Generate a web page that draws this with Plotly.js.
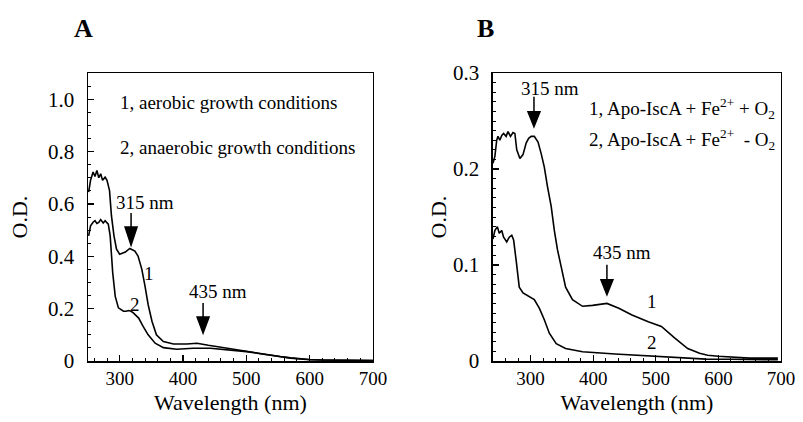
<!DOCTYPE html>
<html>
<head>
<meta charset="utf-8">
<script src="https://cdn.plot.ly/plotly-3.0.1.min.js"></script>
<style>html,body{margin:0;padding:0;background:#fff;}#chart{width:803px;height:422px;}</style>
</head>
<body>
<div id="chart"></div>
<script>
// Panel A: spectra under growth conditions
const wlA1 = [251, 254, 258, 261, 264, 267, 270, 273, 277, 280, 284, 287, 291, 295, 300, 305, 309, 316, 321, 324, 329, 335, 340, 345, 351, 358, 369, 385, 406, 422, 440, 460, 480, 500, 522, 540, 553, 570, 585, 600, 620, 640, 660, 680, 700];
const odA1 = [0.645, 0.69, 0.722, 0.705, 0.728, 0.70, 0.715, 0.69, 0.702, 0.69, 0.651, 0.555, 0.478, 0.427, 0.408, 0.412, 0.416, 0.43, 0.424, 0.42, 0.401, 0.35, 0.286, 0.215, 0.152, 0.1, 0.074, 0.065, 0.065, 0.068, 0.06, 0.052, 0.044, 0.037, 0.029, 0.021, 0.017, 0.012, 0.008, 0.006, 0.004, 0.003, 0.003, 0.002, 0.002];
const wlA2 = [251, 254, 258, 261, 264, 267, 270, 274, 277, 282, 285, 289, 293, 298, 306, 310, 314, 318, 322, 330, 337, 345, 356, 369, 390, 416, 443, 465, 480, 500, 522, 540, 553, 570, 585, 600, 620, 640, 660, 680, 700];
const odA2 = [0.478, 0.516, 0.53, 0.536, 0.525, 0.529, 0.54, 0.527, 0.536, 0.523, 0.478, 0.337, 0.247, 0.203, 0.19, 0.19, 0.193, 0.19, 0.183, 0.164, 0.132, 0.1, 0.068, 0.051, 0.045, 0.049, 0.049, 0.045, 0.042, 0.036, 0.028, 0.021, 0.016, 0.011, 0.008, 0.005, 0.004, 0.003, 0.002, 0.002, 0.002];

// Panel B: Apo-IscA with Fe2+ +/- O2
const wlB1 = [240, 243, 246, 248, 251, 254, 257, 261, 264, 268, 272, 275, 278, 283, 288, 293, 297, 301, 306, 312, 317, 322, 327, 333, 338, 343, 349, 356, 367, 383, 399, 410, 422, 441, 462, 488, 509, 530, 551, 570, 583, 600, 620, 650, 670, 695];
const odB1 = [0.206, 0.213, 0.23, 0.234, 0.23, 0.235, 0.237, 0.234, 0.239, 0.234, 0.238, 0.237, 0.22, 0.211, 0.215, 0.227, 0.232, 0.234, 0.234, 0.228, 0.216, 0.202, 0.182, 0.161, 0.136, 0.116, 0.098, 0.077, 0.064, 0.057, 0.058, 0.059, 0.06, 0.055, 0.048, 0.041, 0.036, 0.024, 0.013, 0.008, 0.006, 0.005, 0.004, 0.003, 0.003, 0.003];
const wlB2 = [240, 243, 247, 250, 254, 257, 262, 266, 270, 273, 277, 282, 288, 298, 306, 314, 322, 330, 341, 356, 383, 435, 488, 541, 580, 620, 660, 695];
const odB2 = [0.127, 0.136, 0.14, 0.133, 0.136, 0.129, 0.124, 0.129, 0.131, 0.126, 0.105, 0.077, 0.071, 0.067, 0.064, 0.055, 0.043, 0.029, 0.018, 0.013, 0.0097, 0.0073, 0.0052, 0.0028, 0.002, 0.0018, 0.0015, 0.0013];

const xTicks = [300, 400, 500, 600, 700];
const yTicksA = [0, 0.2, 0.4, 0.6, 0.8, 1.0];
const yTextA = ['0', '0.2', '0.4', '0.6', '0.8', '1.0'];
const yTicksB = [0, 0.1, 0.2, 0.3];
const yTextB = ['0', '0.1', '0.2', '0.3'];

const FONT = 'Liberation Serif';
const lineStyle = {color: '#000', width: 1.6};

const traces = [
  {x: wlA1, y: odA1, xaxis: 'x', yaxis: 'y', mode: 'lines', line: lineStyle, name: '1'},
  {x: wlA2, y: odA2, xaxis: 'x', yaxis: 'y', mode: 'lines', line: lineStyle, name: '2'},
  {x: wlB1, y: odB1, xaxis: 'x2', yaxis: 'y2', mode: 'lines', line: lineStyle, name: '1'},
  {x: wlB2, y: odB2, xaxis: 'x2', yaxis: 'y2', mode: 'lines', line: lineStyle, name: '2'}
];

function xAxis(domain, range) {
  return {
    domain: domain, range: range, showgrid: false, zeroline: false,
    showline: true, linecolor: '#000', linewidth: 1.5, mirror: true,
    ticks: 'inside', ticklen: 6, tickwidth: 1.2, tickcolor: '#000',
    tickvals: xTicks, ticktext: xTicks.map(String),
    minor: {dtick: 20, ticks: 'inside', ticklen: 3, tickwidth: 1, tickcolor: '#000'},
    tickfont: {family: FONT, size: 19, color: '#000'},
    title: {text: 'Wavelength (nm)', font: {family: FONT, size: 22, color: '#000'}, standoff: 6}
  };
}
function yAxis(range, vals, text, minorDt, standoff) {
  return {
    domain: [0.1445, 0.8270], range: range, showgrid: false, zeroline: false,
    showline: true, linecolor: '#000', linewidth: 1.5, mirror: true,
    ticks: 'inside', ticklen: 6, tickwidth: 1.2, tickcolor: '#000',
    tickvals: vals, ticktext: text, ticklabelstandoff: 8,
    minor: {dtick: minorDt, ticks: 'inside', ticklen: 3, tickwidth: 1, tickcolor: '#000'},
    tickfont: {family: FONT, size: 21, color: '#000'},
    title: {text: 'O.D.', font: {family: FONT, size: 22, color: '#000'}, standoff: standoff}
  };
}

function arrowPath(stem, head) {
  return 'M0,' + stem + ' L0,' + (head - 2) + ' M-6,' + head + ' L6,' + head + ' L0,0 Z';
}
function arrow(xr, yr, x, y, stem, head) {
  return {
    type: 'path', xref: xr, yref: yr, xsizemode: 'pixel', ysizemode: 'pixel',
    xanchor: x, yanchor: y, path: arrowPath(stem, head),
    line: {color: '#000', width: 1.5}, fillcolor: '#000'
  };
}

function txt(xr, yr, x, y, text, xanchor, size) {
  return {xref: xr, yref: yr, x: x, y: y, text: text, showarrow: false,
    xanchor: xanchor || 'center', yanchor: 'middle',
    font: {family: FONT, size: size || 19, color: '#000'}};
}

const layout = {
  width: 803, height: 422,
  margin: {l: 0, r: 0, t: 0, b: 0},
  paper_bgcolor: '#fff', plot_bgcolor: '#fff',
  font: {family: FONT, color: '#000'},
  showlegend: false,
  xaxis: Object.assign(xAxis([0.1096, 0.4645], [250, 700]), {anchor: 'y'}),
  yaxis: Object.assign(yAxis([0, 1.1], yTicksA, yTextA, 0.05, 14), {anchor: 'x'}),
  xaxis2: Object.assign(xAxis([0.6139, 0.9726], [240, 700]), {anchor: 'y2'}),
  yaxis2: Object.assign(yAxis([0, 0.3], yTicksB, yTextB, 0.01, 0), {anchor: 'x2'}),
  shapes: [
    arrow('x', 'y', 318, 0.443, 32, 18),
    arrow('x', 'y', 431.7, 0.107, 30, 16),
    arrow('x2', 'y2', 305.5, 0.244, 30, 15),
    arrow('x2', 'y2', 422, 0.069, 30, 15)
  ],
  annotations: [
    {xref: 'paper', yref: 'paper', x: 0.1034, y: 0.9313, text: '<b>A</b>', showarrow: false,
     xanchor: 'center', yanchor: 'middle', font: {family: FONT, size: 26, color: '#000'}},
    {xref: 'paper', yref: 'paper', x: 0.6052, y: 0.9313, text: '<b>B</b>', showarrow: false,
     xanchor: 'center', yanchor: 'middle', font: {family: FONT, size: 26, color: '#000'}},
    txt('x', 'y', 297.4, 0.989, '1, aerobic growth conditions', 'left'),
    txt('x', 'y', 297.4, 0.817, '2, anaerobic growth conditions', 'left'),
    txt('x', 'y', 340, 0.607, '315 nm'),
    txt('x', 'y', 346.4, 0.336, '1'),
    txt('x', 'y', 324.2, 0.214, '2'),
    txt('x', 'y', 455.4, 0.267, '435 nm'),
    txt('x2', 'y2', 331, 0.284, '315 nm'),
    txt('x2', 'y2', 390, 0.263, '1, Apo-IscA + Fe<sup>2+</sup> + O<sub>2</sub>', 'left'),
    txt('x2', 'y2', 390, 0.231, '2, Apo-IscA + Fe<sup>2+</sup>  - O<sub>2</sub>', 'left'),
    txt('x2', 'y2', 446, 0.1135, '435 nm'),
    txt('x2', 'y2', 494, 0.0615, '1'),
    txt('x2', 'y2', 494, 0.0198, '2')
  ]
};

Plotly.newPlot('chart', traces, layout, {staticPlot: true, displayModeBar: false});
</script>
</body>
</html>
